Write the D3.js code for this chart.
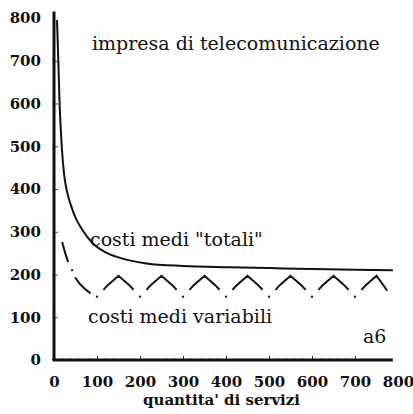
<!DOCTYPE html>
<html>
<head>
<meta charset="utf-8">
<script src="https://cdn.jsdelivr.net/npm/d3@7"></script>
<style>
  body { margin: 0; background: #fff; }
  svg text { font-family: "DejaVu Serif", "Liberation Serif", serif; fill: #111; }
</style>
</head>
<body>
<div id="chart"></div>
<script>
// Chart size
const width = 413;
const height = 414;

// Average total cost ("costi medi totali")
const totalQ = [7, 10, 13, 18, 24, 30, 40, 50, 65, 90, 120, 150, 215, 300, 410, 500, 600, 700, 788];
const totalV = [795, 700, 600, 500, 430, 395, 360, 333, 306, 273, 252, 240, 226, 220, 217, 215, 213, 211, 210];

// Average variable cost ("costi medi variabili")
const varQ = [19, 26, 33, 42, 49, 60, 72, 85, 100,
  125, 150, 175, 200, 225, 250, 275, 300, 325, 350, 375, 400,
  425, 450, 475, 500, 525, 550, 575, 600, 625, 650, 675, 700, 725, 750, 775];
const varV = [276, 250, 229, 210, 193, 178, 166, 156, 148,
  175, 197, 175, 148, 175, 197, 175, 148, 175, 197, 175, 148,
  175, 197, 175, 148, 175, 197, 175, 148, 175, 197, 175, 148, 175, 197, 162];

// Axis ticks
const xTicks = [0, 100, 200, 300, 400, 500, 600, 700, 800];
const yTicks = [0, 100, 200, 300, 400, 500, 600, 700, 800];

const svg = d3.select("#chart").append("svg")
  .attr("width", width)
  .attr("height", height);

svg.append("rect").attr("width", width).attr("height", height).attr("fill", "#fff");

const x = d3.scaleLinear().domain([0, 800]).range([54, 398]);
const y = d3.scaleLinear().domain([0, 800]).range([360, 18]);

// X axis (ticks point inward)
const xAxis = svg.append("g")
  .attr("transform", `translate(0,${y(0)})`)
  .call(d3.axisBottom(x).tickValues(xTicks).tickSize(-4).tickPadding(16).tickFormat(d3.format("d")));
xAxis.select(".domain").remove();
xAxis.selectAll(".tick line").attr("stroke", "#333").attr("stroke-width", 1);
xAxis.selectAll(".tick text")
  .style("font-size", "15px").style("font-weight", "bold")
  .style("font-family", "'DejaVu Serif', serif").attr("fill", "#111");
xAxis.selectAll(".tick").filter((d) => d === 0 || d === 800).select("line").remove();

// minor ticks on x axis
svg.append("g").selectAll("line")
  .data(d3.range(20, 800, 20).filter((d) => d % 100 !== 0))
  .join("line")
  .attr("x1", (d) => x(d)).attr("x2", (d) => x(d))
  .attr("y1", y(0)).attr("y2", y(0) - 2)
  .attr("stroke", "#777").attr("stroke-width", 0.8);

// Y axis
const yAxis = svg.append("g")
  .attr("transform", `translate(${x(0)},0)`)
  .call(d3.axisLeft(y).tickValues(yTicks).tickSize(-4).tickPadding(13).tickFormat(d3.format("d")));
yAxis.select(".domain").remove();
yAxis.selectAll(".tick line").attr("stroke", "#555").attr("stroke-width", 1);
yAxis.selectAll(".tick text")
  .style("font-size", "15px").style("font-weight", "bold")
  .style("font-family", "'DejaVu Serif', serif").attr("fill", "#111");
yAxis.selectAll(".tick").filter((d) => d === 0 || d === 800).select("line").remove();

// axis lines
svg.append("line")
  .attr("x1", x(0) - 1.5).attr("x2", x(788))
  .attr("y1", y(0)).attr("y2", y(0))
  .attr("stroke", "#111").attr("stroke-width", 3);
svg.append("line")
  .attr("x1", x(0)).attr("x2", x(0))
  .attr("y1", y(0)).attr("y2", y(815))
  .attr("stroke", "#111").attr("stroke-width", 3);

// Total cost curve
const totalData = totalQ.map((q, i) => [q, totalV[i]]);
svg.append("path")
  .datum(totalData)
  .attr("d", d3.line().x((d) => x(d[0])).y((d) => y(d[1])).curve(d3.curveMonotoneX))
  .attr("fill", "none")
  .attr("stroke", "#111")
  .attr("stroke-width", 2);

// Variable cost curve, dash-dot
const varData = varQ.map((q, i) => [q, varV[i]]);
const pts = varData.map((d) => [x(d[0]), y(d[1])]);

// pixel length along the polyline up to quantity q
function lengthAt(q) {
  let len = 0;
  for (let i = 1; i < pts.length; i++) {
    const [x0, y0] = pts[i - 1];
    const [x1, y1] = pts[i];
    const seg = Math.hypot(x1 - x0, y1 - y0);
    if (q <= varData[i][0]) {
      const t = (q - varData[i - 1][0]) / (varData[i][0] - varData[i - 1][0]);
      return len + seg * Math.max(0, t);
    }
    len += seg;
  }
  return len;
}

// dashes and dots along the curve, in quantity units
const pieces = [[19, 33], [42, 42], [49, 85], [100, 100]];
for (let k = 1; k <= 6; k++) {
  pieces.push([k * 100 + 15, k * 100 + 85]);
  pieces.push([(k + 1) * 100, (k + 1) * 100]);
}
pieces.push([715, 775]);

const spans = pieces.map(([a, b]) => {
  if (a === b) {
    const c = lengthAt(a);
    return [c - 1, c + 1];
  }
  return [lengthAt(a), lengthAt(b)];
});
const dash = [];
spans.forEach((s, i) => {
  dash.push(s[1] - s[0]);
  const next = spans[i + 1];
  dash.push(next ? next[0] - s[1] : 1000);
});

svg.append("path")
  .datum(varData)
  .attr("d", d3.line().x((d) => x(d[0])).y((d) => y(d[1])))
  .attr("fill", "none")
  .attr("stroke", "#111")
  .attr("stroke-width", 2)
  .attr("stroke-dasharray", dash.map((d) => d.toFixed(2)).join(" "));

// Labels
const label = (txt, px, py, size, weight) =>
  svg.append("text")
    .attr("x", px).attr("y", py)
    .style("font-size", size + "px")
    .style("font-weight", weight || "normal")
    .text(txt);

label("impresa di telecomunicazione", 92, 50, 19);
label("costi medi \"totali\"", 90, 246, 19);
label("costi medi variabili", 88, 323, 19);
label("a6", 363, 343, 19);
label("quantita' di servizi", 143, 405, 15, "bold");
</script>
</body>
</html>
